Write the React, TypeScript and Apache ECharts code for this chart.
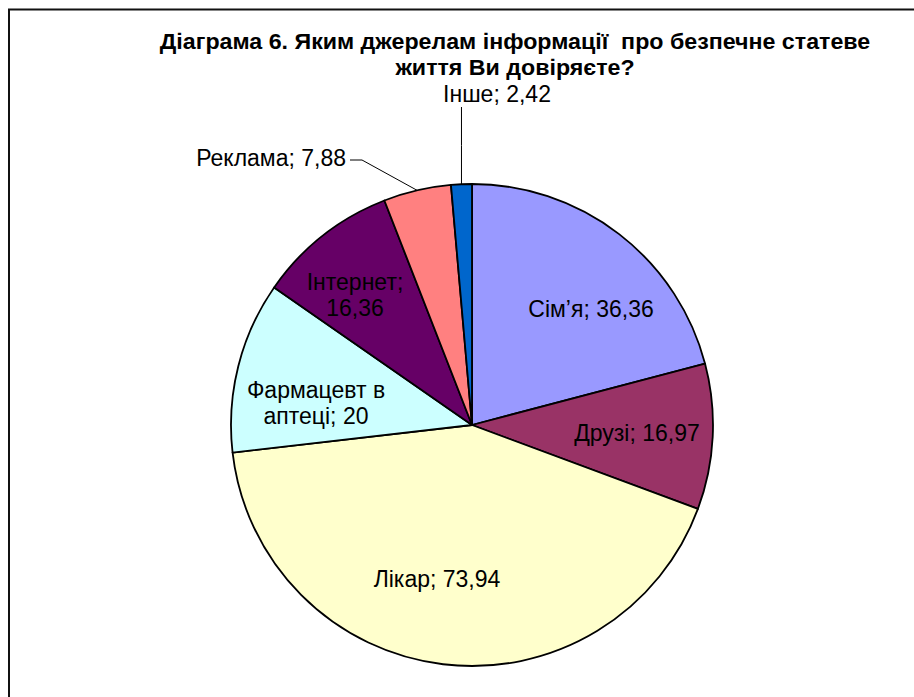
import React, { useEffect, useRef } from "react";
import * as echarts from "echarts";

const titleLines = [
  "Діаграма 6. Яким джерелам інформації  про безпечне статеве",
  "життя Ви довіряєте?",
];
const categories = ["Сім’я", "Друзі", "Лікар", "Фармацевт в аптеці", "Інтернет", "Реклама", "Інше"];
const values = [36.36, 16.97, 73.94, 20, 16.36, 7.88, 2.42];
const colors = ["#9999FF", "#993366", "#FFFFCC", "#CCFFFF", "#660066", "#FF8080", "#0066CC"];
const outsideLabels = ["Реклама", "Інше"];

// label anchor positions (layout, not data)
const labelPos: Record<string, { x: number; y: number; align: string }> = {
  "Сім’я": { x: 591, y: 309, align: "center" },
  "Друзі": { x: 637, y: 433, align: "center" },
  "Лікар": { x: 437, y: 579, align: "center" },
  "Фармацевт в аптеці": { x: 316, y: 403, align: "center" },
  "Інтернет": { x: 355, y: 295, align: "center" },
  "Реклама": { x: 346, y: 158, align: "right" },
  "Інше": { x: 497, y: 94, align: "center" },
};
// number of words kept on the first label line
const firstLineWords: Record<string, number> = {
  "Фармацевт в аптеці": 2,
  "Інтернет": 1,
};

const fmt = (v: number) => String(v).replace(".", ",");

export default function App() {
  const ref = useRef<HTMLDivElement>(null);
  useEffect(() => {
    const chart = echarts.init(ref.current!, null, { renderer: "svg" });
    const font = "Liberation Sans, Arial, sans-serif";
    chart.setOption({
      animation: false,
      backgroundColor: "#ffffff",
      graphic: [
        {
          type: "rect",
          shape: { x: 9, y: 9.5, width: 1000, height: 1000 },
          style: { fill: "none", stroke: "#111", lineWidth: 2 },
          silent: true,
        },
        {
          type: "text",
          x: 515,
          y: 55,
          scaleX: 1.08,
          style: {
            text: titleLines.join("\n"),
            align: "center",
            verticalAlign: "middle",
            fontFamily: font,
            fontWeight: "bold",
            fontSize: 21.5,
            lineHeight: 26,
            fill: "#000",
          },
        },
      ],
      series: [
        {
          type: "pie",
          center: [472, 425],
          radius: 241,
          startAngle: 90,
          clockwise: true,
          avoidLabelOverlap: false,
          itemStyle: { borderColor: "#000", borderWidth: 1.8 },
          label: {
            fontFamily: font,
            fontSize: 23,
            lineHeight: 26,
            color: "#000",
            formatter: (p: any) => {
              const txt = `${p.name}; ${fmt(p.value)}`;
              const n = firstLineWords[p.name];
              if (!n) return txt;
              const w = txt.split(" ");
              return w.slice(0, n).join(" ") + "\n" + w.slice(n).join(" ");
            },
          },
          labelLine: { lineStyle: { color: "#000", width: 1 } },
          emphasis: { disabled: true },
          labelLayout: (p: any) => {
            const name = categories[p.dataIndex];
            const pos = labelPos[name];
            const res: any = { x: pos.x, y: pos.y, align: pos.align, verticalAlign: "middle" };
            const pts = p.labelLinePoints;
            if (name === "Реклама" && pts) {
              const p0 = pts[0];
              res.labelLinePoints = [[pos.x + 4, pos.y + 2], [pos.x + 16, pos.y + 2], p0];
            } else if (name === "Інше" && pts) {
              const p0 = pts[0];
              res.labelLinePoints = [[p0[0], pos.y + 13], [p0[0], (pos.y + 13 + p0[1]) / 2], p0];
            }
            return res;
          },
          data: categories.map((c, i) => {
            const outside = outsideLabels.includes(c);
            return {
              name: c,
              value: values[i],
              itemStyle: { color: colors[i] },
              label: { position: outside ? "outside" : "inside" },
              labelLine: { show: outside, length: 20, length2: 10 },
            };
          }),
        },
      ],
    });
    return () => chart.dispose();
  }, []);
  return (
    <div
      ref={ref}
      style={{ position: "absolute", left: 0, top: 0, width: 914, height: 697 }}
    />
  );
}
